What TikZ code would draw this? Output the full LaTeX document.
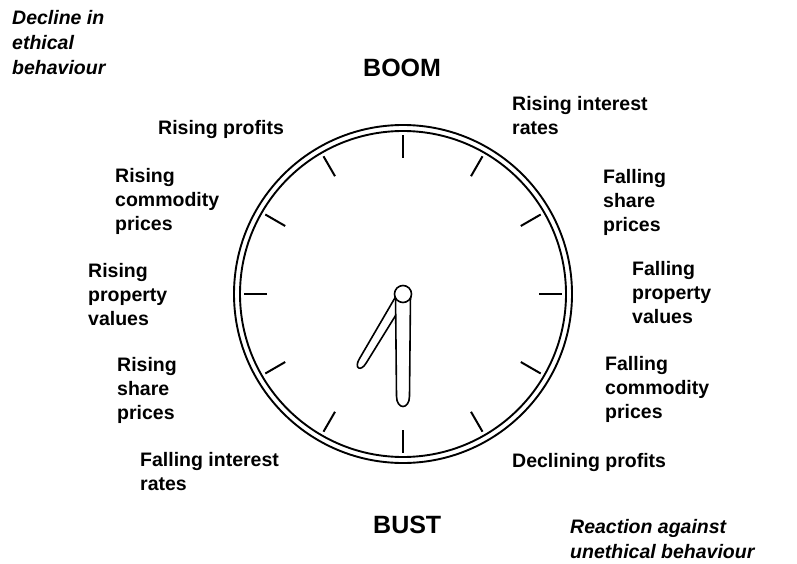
\documentclass[tikz,border=0pt]{standalone}
\usepackage{fontspec}
\setmainfont{Liberation Sans}
\usetikzlibrary{calc}
\tikzset{
  lbl/.style={anchor=base west, inner sep=0pt, align=left, font=\fontsize{19.5}{24}\selectfont\bfseries},
  ital/.style={lbl, font=\fontsize{19.5}{25}\selectfont\bfseries\itshape},
  big/.style={anchor=base west, inner sep=0pt, font=\fontsize{25}{30}\selectfont\bfseries},
  rim/.style={line width=1.9pt},
  tick/.style={line width=2pt},
  hand/.style={fill=white, draw=black, line width=1.6pt, line join=round}
}
\begin{document}
\begin{tikzpicture}[x=1pt,y=-1pt]
\useasboundingbox (0,0) rectangle (797,564);
\coordinate (C) at (403,294);
% rim
\draw[rim] (C) circle (169pt);
\draw[rim] (C) circle (163pt);
% ticks
\foreach \a in {0,30,...,330}
  \draw[tick] ($(C)+(\a:136pt)$) -- ($(C)+(\a:159pt)$);
% hour hand
\begin{scope}[shift={(C)}, rotate=-31]
  \draw[hand] (-5,0) -- (-4,78) .. controls (-4,89) and (4,89) .. (4,78) -- (5,0) -- cycle;
\end{scope}
% minute hand
\begin{scope}[shift={(C)}]
  \draw[hand] (-7.5,0) -- (-6.5,102) .. controls (-6.5,116) and (6.5,116) .. (6.5,102) -- (7.5,0) -- cycle;
\end{scope}
% hub
\node[circle, draw, line width=1.6pt, fill=white, minimum size=17pt, inner sep=0pt] (hub) at (C) {};
% labels (anchor = baseline of last line)
\node[ital] (decline) at (12,75) {Decline in\\ethical\\behaviour};
\node[big] (boom) at (363,77) {BOOM};
\node[big] (bust) at (373,533) {BUST};
\node[lbl] (rprofits) at (158,135) {Rising profits};
\node[lbl] (rinterest) at (512,135) {Rising interest\\rates};
\node[lbl] (fshare) at (603,231) {Falling\\share\\prices};
\node[lbl] (rcomm) at (115,230) {Rising\\commodity\\prices};
\node[lbl] (rprop) at (88,325) {Rising\\property\\values};
\node[lbl] (fprop) at (632,323) {Falling\\property\\values};
\node[lbl] (fcomm) at (605,418) {Falling\\commodity\\prices};
\node[lbl] (rshare) at (117,419) {Rising\\share\\prices};
\node[lbl] (finterest) at (140,490) {Falling interest\\rates};
\node[lbl] (dprofits) at (512,467) {Declining profits};
\node[ital] (reaction) at (570,558) {Reaction against\\unethical behaviour};
\end{tikzpicture}
\end{document}
